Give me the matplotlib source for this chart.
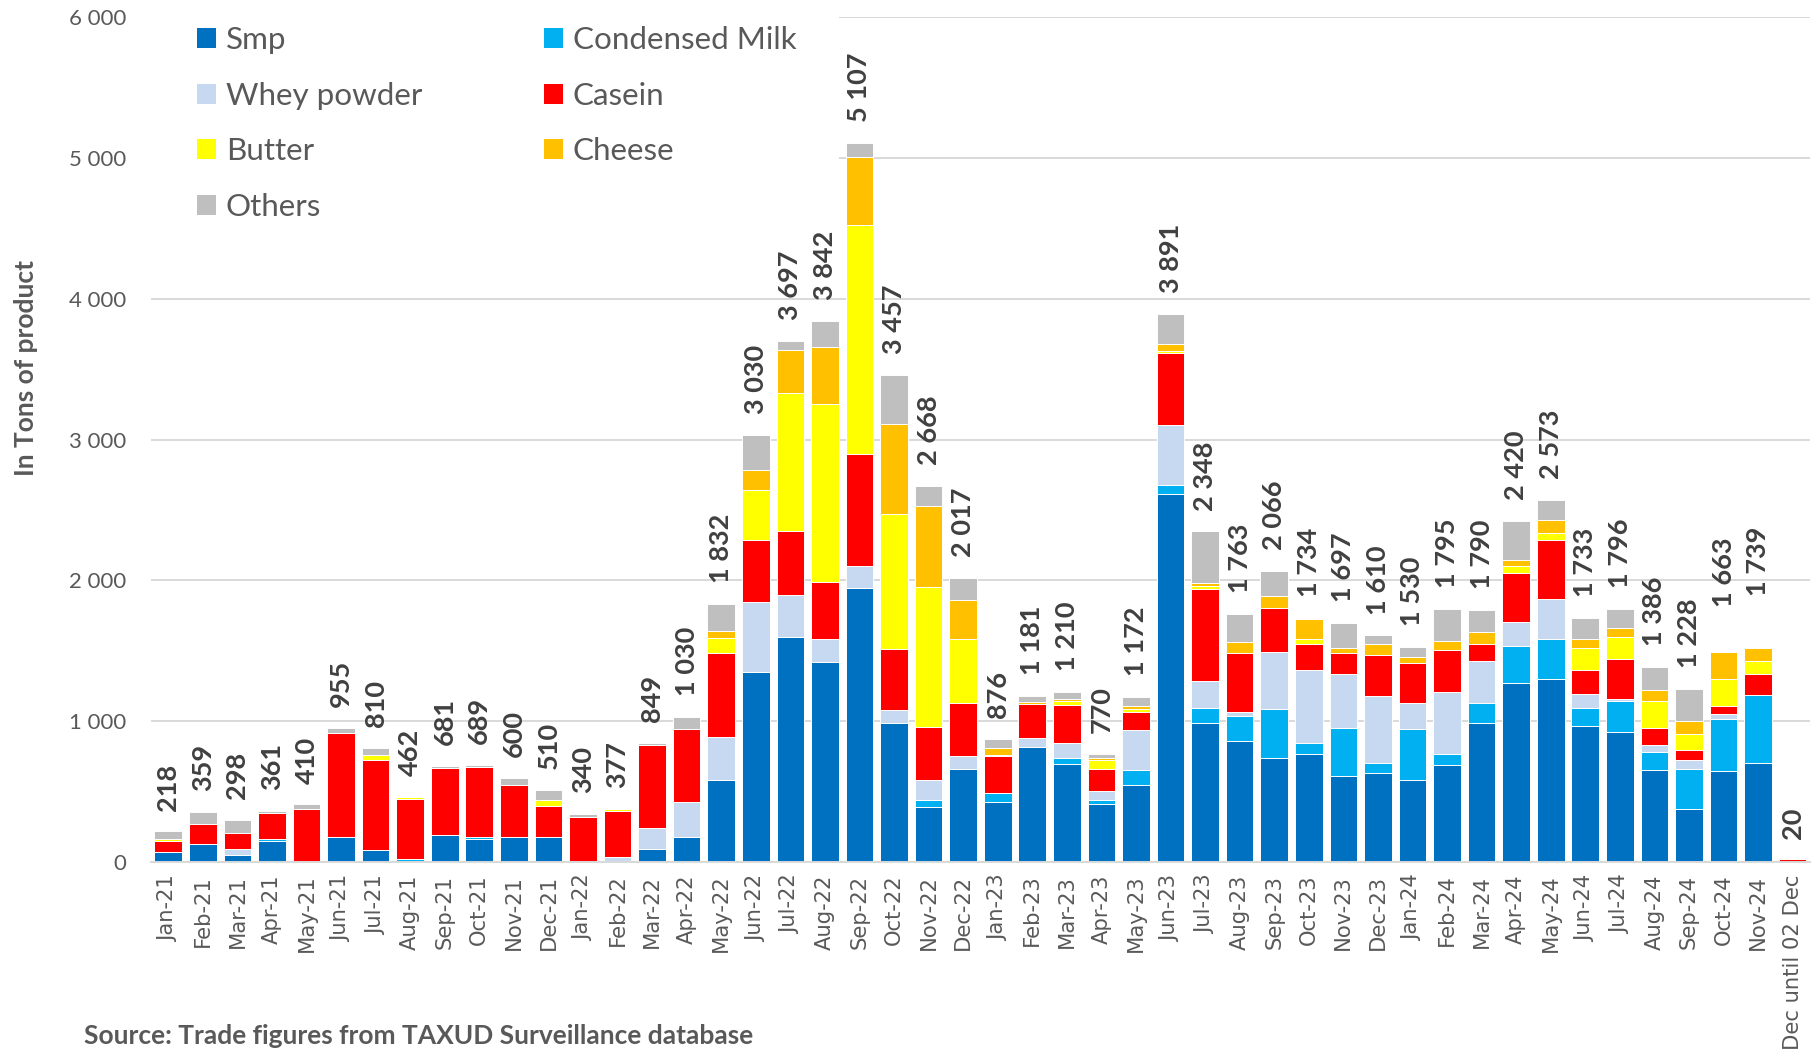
import matplotlib
matplotlib.use("Agg")
import matplotlib.pyplot as plt
from matplotlib.patches import Patch, Rectangle
import numpy as np

# monthly import volumes, tonnes
months = ["Jan-21", "Feb-21", "Mar-21", "Apr-21", "May-21", "Jun-21", "Jul-21", "Aug-21",
          "Sep-21", "Oct-21", "Nov-21", "Dec-21", "Jan-22", "Feb-22", "Mar-22", "Apr-22",
          "May-22", "Jun-22", "Jul-22", "Aug-22", "Sep-22", "Oct-22", "Nov-22", "Dec-22",
          "Jan-23", "Feb-23", "Mar-23", "Apr-23", "May-23", "Jun-23", "Jul-23", "Aug-23",
          "Sep-23", "Oct-23", "Nov-23", "Dec-23", "Jan-24", "Feb-24", "Mar-24", "Apr-24",
          "May-24", "Jun-24", "Jul-24", "Aug-24", "Sep-24", "Oct-24", "Nov-24",
          "Dec until 02 Dec"]

smp = [70, 130, 52, 147, 0, 180, 85, 5, 192, 164, 180, 180, 3, 0, 97, 178,
       580, 1350, 1595, 1420, 1945, 985, 395, 660, 425, 820, 695, 410, 550, 2615, 985, 860,
       740, 770, 613, 630, 580, 690, 985, 1270, 1300, 970, 925, 656, 375, 644, 705, 0]
condensed = [0, 0, 0, 15, 0, 0, 0, 15, 0, 14, 0, 0, 0, 0, 0, 0,
             0, 0, 0, 0, 0, 0, 48, 0, 64, 0, 44, 32, 107, 60, 108, 175,
             347, 76, 339, 76, 364, 81, 143, 264, 283, 126, 218, 128, 283, 373, 485, 0]
whey = [0, 0, 45, 0, 0, 0, 0, 0, 0, 0, 0, 0, 0, 35, 143, 250,
        312, 498, 298, 164, 156, 96, 140, 96, 0, 60, 108, 60, 283, 425, 191, 32,
        408, 515, 381, 473, 187, 437, 299, 173, 285, 97, 14, 45, 64, 33, 0, 0]
casein = [80, 138, 110, 186, 375, 740, 640, 428, 476, 498, 370, 216, 315, 330, 593, 520,
          590, 438, 455, 402, 795, 434, 374, 375, 265, 240, 267, 160, 124, 515, 657, 418,
          311, 188, 154, 294, 283, 297, 124, 347, 420, 169, 283, 126, 76, 59, 143, 20]
butter = [14, 0, 0, 0, 0, 0, 35, 14, 0, 0, 0, 48, 0, 12, 0, 0,
          112, 358, 980, 1263, 1630, 956, 996, 454, 5, 0, 32, 60, 24, 16, 16, 0,
          0, 33, 0, 0, 0, 0, 0, 45, 50, 159, 157, 192, 114, 193, 92, 0]
cheese = [0, 3, 0, 0, 0, 0, 0, 0, 0, 0, 0, 0, 0, 0, 0, 0,
          45, 140, 310, 410, 480, 638, 578, 279, 52, 16, 12, 20, 24, 44, 24, 80,
          81, 145, 31, 79, 45, 64, 80, 45, 90, 64, 64, 74, 90, 187, 97, 0]
others = [54, 88, 91, 13, 35, 35, 50, 0, 13, 13, 50, 66, 22, 0, 16, 82,
          193, 246, 59, 183, 101, 348, 137, 153, 65, 45, 52, 28, 60, 216, 367, 198,
          179, 7, 179, 58, 71, 226, 159, 276, 145, 148, 135, 165, 226, 0, 0, 0]

# totals as printed above each bar
totals = [218, 359, 298, 361, 410, 955, 810, 462, 681, 689, 600, 510, 340, 377, 849, 1030,
          1832, 3030, 3697, 3842, 5107, 3457, 2668, 2017, 876, 1181, 1210, 770, 1172, 3891,
          2348, 1763, 2066, 1734, 1697, 1610, 1530, 1795, 1790, 2420, 2573, 1733, 1796,
          1386, 1228, 1663, 1739, 20]

series = [
    ("Smp", smp, "#0070C0"),
    ("Condensed Milk", condensed, "#00B0F0"),
    ("Whey powder", whey, "#C6D9F1"),
    ("Casein", casein, "#FF0000"),
    ("Butter", butter, "#FFFF00"),
    ("Cheese", cheese, "#FFC000"),
    ("Others", others, "#BFBFBF"),
]

plt.rcParams["font.family"] = ["Lato", "DejaVu Sans"]

fig = plt.figure(figsize=(18.19, 10.54), dpi=100)
ax = fig.add_axes([0.083, 0.182, 0.912, 0.802])

x = np.arange(len(months))
bottom = np.zeros(len(months))
for name, vals, col in series:
    vals = np.array(vals, dtype=float)
    ax.bar(x, vals, 0.8, bottom=bottom, color=col, edgecolor="white",
           linewidth=0.7, zorder=2)
    bottom += vals

for i, t in enumerate(totals):
    ax.annotate(f"{t:,}".replace(",", " "), (i, t), xytext=(0, 15),
                textcoords="offset points", rotation=90, ha="center", va="bottom",
                fontsize=19.5, fontweight="bold", color="#404040", zorder=3)

ax.set_xlim(-0.5, len(months) - 0.5)
ax.set_ylim(0, 6000)
ax.set_yticks(range(0, 6001, 1000))
ax.set_yticklabels([f"{v:,}".replace(",", " ") for v in range(0, 6001, 1000)])
ax.set_xticks(x)
ax.set_xticklabels(months, rotation=90, family="DejaVu Sans")
ax.tick_params(axis="x", length=0, pad=9, labelsize=15.2, labelcolor="#595959")
ax.tick_params(axis="y", length=0, pad=18, labelsize=16, labelcolor="#595959")

ax.set_axisbelow(True)
ax.grid(True, axis="y", color="#D9D9D9", linewidth=1.4)
for s in ["top", "right", "left"]:
    ax.spines[s].set_visible(False)
ax.spines["bottom"].set_color("#D9D9D9")
ax.spines["bottom"].set_linewidth(1.4)

# white block behind the legend hides the upper gridlines
ax.add_patch(Rectangle((0, 0.745), 0.415, 0.3, transform=ax.transAxes,
                       facecolor="white", edgecolor="none", zorder=1, clip_on=False))

# legend reads row by row: reorder for matplotlib's column filling
order = [0, 2, 4, 6, 1, 3, 5]
handles = [Patch(facecolor=series[k][2], edgecolor="none") for k in order]
labels = [series[k][0] for k in order]
ax.legend(handles, labels, ncol=2, loc="upper left", bbox_to_anchor=(0.028, 0.989),
          frameon=False, borderpad=0, borderaxespad=0, fontsize=22.6,
          handlelength=0.6, handleheight=0.6, handletextpad=0.3,
          labelspacing=0.88, columnspacing=3.9, labelcolor="#595959")

fig.text(26 / 1819, 1 - 368 / 1054, "In Tons of product", rotation=90,
         ha="center", va="center", fontsize=19, fontweight="bold", color="#595959")
fig.text(84 / 1819, 1 - 1036 / 1054, "Source: Trade figures from TAXUD Surveillance database",
         ha="left", va="center", fontsize=19, fontweight="bold", color="#595959")

fig.savefig("out.png", dpi=100)
